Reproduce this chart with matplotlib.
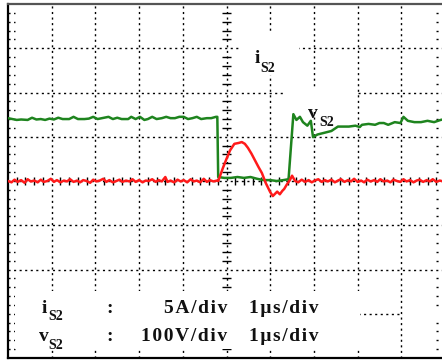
import numpy as np
import matplotlib.pyplot as plt
from matplotlib.patches import Rectangle

# screen coordinates in divisions: 10 horizontal (1 us/div), 8 vertical
t_v = [0.00, 0.10, 0.20, 0.30, 0.45, 0.55, 0.65, 0.75, 0.85, 0.95, 1.05, 1.15,
       1.25, 1.40, 1.50, 1.60, 1.75, 1.85, 1.95, 2.05, 2.15, 2.30, 2.40, 2.50,
       2.60, 2.75, 2.82, 2.92, 3.02, 3.12, 3.20, 3.30, 3.40, 3.52, 3.62, 3.72,
       3.82, 3.92, 4.02, 4.12, 4.22, 4.32, 4.42, 4.55, 4.65, 4.76, 4.79, 4.81,
       4.95, 5.10, 5.25, 5.40, 5.55, 5.70, 5.85, 6.00, 6.15, 6.30, 6.42, 6.53,
       6.60, 6.68, 6.75, 6.85, 6.93, 6.98, 7.08, 7.20, 7.40, 7.55, 7.80, 7.95,
       8.05, 8.10, 8.25, 8.40, 8.50, 8.60, 8.70, 8.85, 8.98, 9.05, 9.15, 9.30,
       9.45, 9.60, 9.75, 9.90, 10.0]
v_s2 = [5.42, 5.40, 5.38, 5.39, 5.38, 5.43, 5.39, 5.40, 5.38, 5.41, 5.39, 5.43,
        5.40, 5.40, 5.45, 5.40, 5.40, 5.41, 5.45, 5.40, 5.42, 5.45, 5.40, 5.43,
        5.40, 5.40, 5.45, 5.40, 5.45, 5.38, 5.40, 5.45, 5.40, 5.42, 5.45, 5.42,
        5.42, 5.45, 5.45, 5.40, 5.42, 5.45, 5.40, 5.42, 5.42, 5.45, 5.45, 4.09,
        4.07, 4.07, 4.09, 4.07, 4.09, 4.05, 4.02, 4.02, 4.00, 4.02, 4.04, 5.51,
        5.38, 5.45, 5.33, 5.25, 5.36, 4.99, 5.05, 5.08, 5.13, 5.23, 5.23, 5.25,
        5.22, 5.27, 5.29, 5.27, 5.31, 5.31, 5.27, 5.33, 5.31, 5.45, 5.36, 5.33,
        5.33, 5.36, 5.33, 5.38, 5.40]

t_i = [0.00, 0.08, 0.15, 0.22, 0.30, 0.38, 0.45, 0.52, 0.60, 0.68, 0.75, 0.82,
       0.90, 0.98, 1.05, 1.12, 1.20, 1.28, 1.35, 1.42, 1.50, 1.58, 1.65, 1.72,
       1.80, 1.88, 1.95, 2.02, 2.10, 2.18, 2.25, 2.32, 2.40, 2.48, 2.55, 2.62,
       2.70, 2.78, 2.85, 2.92, 3.00, 3.08, 3.15, 3.22, 3.30, 3.38, 3.45, 3.52,
       3.60, 3.65, 3.72, 3.80, 3.88, 3.95, 4.02, 4.10, 4.18, 4.25, 4.32, 4.40,
       4.48, 4.55, 4.62, 4.70, 4.78, 4.81, 4.92, 5.00, 5.08, 5.18, 5.28, 5.35,
       5.42, 5.49, 5.57, 5.65, 5.73, 5.81, 5.90, 6.00, 6.06, 6.12, 6.16, 6.22,
       6.28, 6.32, 6.38, 6.45, 6.50, 6.57, 6.64, 6.72, 6.80, 6.88, 6.95, 7.02,
       7.10, 7.18, 7.25, 7.32, 7.40, 7.48, 7.55, 7.62, 7.70, 7.78, 7.85, 7.92,
       8.00, 8.08, 8.15, 8.22, 8.30, 8.38, 8.45, 8.52, 8.60, 8.68, 8.75, 8.82,
       8.90, 8.98, 9.05, 9.12, 9.20, 9.28, 9.35, 9.42, 9.50, 9.58, 9.65, 9.72,
       9.80, 9.88, 9.95, 10.0]
i_s2 = [4.00, 3.97, 4.03, 3.98, 4.02, 3.96, 4.04, 3.99, 4.01, 3.97, 4.03, 3.98,
        4.00, 4.05, 3.98, 4.02, 3.97, 4.01, 3.99, 4.04, 3.98, 4.01, 3.97, 4.02,
        4.00, 3.96, 4.03, 3.99, 4.01, 4.05, 3.98, 4.02, 3.97, 4.00, 4.03, 3.98,
        4.01, 3.99, 4.04, 3.98, 4.02, 3.97, 4.01, 4.00, 4.04, 3.98, 4.02, 3.99,
        4.09, 3.98, 4.01, 3.97, 4.03, 3.99, 4.02, 3.97, 4.04, 3.99, 4.01, 3.97,
        4.05, 3.98, 4.02, 3.99, 4.01, 4.00, 4.30, 4.50, 4.69, 4.84, 4.86, 4.88,
        4.84, 4.75, 4.62, 4.47, 4.32, 4.18, 3.95, 3.75, 3.66, 3.72, 3.76, 3.70,
        3.78, 3.82, 3.92, 4.02, 4.12, 4.00, 3.97, 4.03, 3.98, 4.02, 3.97, 4.01,
        4.04, 3.98, 4.02, 3.99, 4.03, 3.97, 4.01, 4.04, 3.98, 4.02, 3.99, 4.05,
        3.98, 4.01, 3.97, 4.03, 3.99, 4.02, 3.98, 4.04, 3.99, 4.01, 3.97, 4.03,
        4.00, 3.98, 4.04, 3.99, 4.02, 3.97, 4.01, 4.03, 3.98, 4.02, 3.99, 4.04,
        3.98, 4.01, 3.99, 4.00]

scale_rows = [("i", "5A/div", "1\u03bcs/div"), ("v", "100V/div", "1\u03bcs/div")]

serif = ["Liberation Serif", "DejaVu Serif"]
dots = (0, (1.5, 2.5))


def spaced(s):
    # the scope labels are set with loose letter spacing
    return "\u200a".join(s)


fig = plt.figure(figsize=(4.42, 3.62), dpi=100)
ax = fig.add_axes([8/442, 4/362, 437/442, 354/362])
ax.set_xlim(0, 10)
ax.set_ylim(0, 8)
ax.set_xticks([])
ax.set_yticks([])
for s in ax.spines.values():
    s.set_linewidth(1.6)
    s.set_color("black")
ax.spines["top"].set_color("#555555")

# graticule
for x in range(1, 10):
    ax.axvline(x, color="black", lw=1.0, ls=dots, zorder=1)
for y in range(1, 8):
    ax.axhline(y, color="black", lw=1.0, ls=dots, zorder=1)

minor_v = [k / 5 for k in range(41) if k % 5]
minor_t = [k / 5 for k in range(51) if k % 5]
ax.hlines(minor_v, 0, 0.16, color="black", lw=1.0, ls=dots, zorder=1)
ax.hlines(minor_v, 9.80, 10, color="black", lw=1.0, ls=dots, zorder=1)
ax.hlines(minor_v, 4.90, 5.10, color="black", lw=1.0, zorder=1)
ax.vlines(minor_t, 3.91, 4.09, color="black", lw=1.0, zorder=1)

# label backgrounds
for (x0, y0, w, h) in [(0.17, 0.20, 7.89, 1.32), (5.33, 6.40, 1.33, 0.97),
                       (6.36, 5.55, 1.61, 0.55), (9.04, 0.90, 0.90, 0.20)]:
    ax.add_patch(Rectangle((x0, y0), w, h, facecolor="white",
                           edgecolor="none", zorder=2))

ax.plot(t_v, v_s2, color="#1e841e", lw=1.8, zorder=3)
ax.plot(t_i, i_s2, color="#ff1a1a", lw=1.8, zorder=4)

tk = dict(family=serif, fontweight="bold", color="#111111", zorder=5)
ax.text(5.70, 6.67, "i", fontsize=14, ha="center", va="baseline", **tk)
ax.text(5.77, 6.46, "S2", fontsize=10, ha="left", va="baseline", **tk)
ax.text(6.98, 5.42, "v", fontsize=14, ha="center", va="baseline", **tk)
ax.text(7.12, 5.24, "S2", fontsize=10, ha="left", va="baseline", **tk)

for row, (sym, amp, tb) in enumerate(scale_rows):
    yb = 1.02 - 0.64 * row
    ax.text(0.83, yb, sym, fontsize=14, ha="center", va="baseline", **tk)
    ax.text(0.93, yb - 0.17, "S2", fontsize=10, ha="left", va="baseline", **tk)
    ax.text(2.33, yb, ":", fontsize=14, ha="center", va="baseline", **tk)
    ax.text(5.02, yb, spaced(amp), fontsize=14, ha="right", va="baseline", **tk)
    ax.text(5.52, yb, spaced(tb), fontsize=14, ha="left", va="baseline", **tk)

fig.savefig("out.png", dpi=100)
